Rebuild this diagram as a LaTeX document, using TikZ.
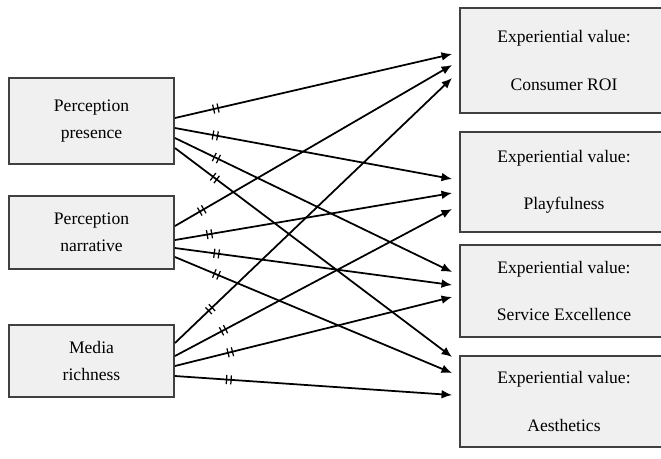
\documentclass[tikz,border=0pt]{standalone}
\usepackage{fontspec}
\setmainfont{Liberation Serif}
\usetikzlibrary{arrows.meta,calc,decorations.markings}
\begin{document}
\begin{tikzpicture}[x=0.02cm,y=-0.02cm,
  box/.style={draw=kBorder,fill=kFill,line width=1.1pt,inner sep=0pt,align=center},
  arr/.style={line width=1pt,-{Latex[length=6pt,width=5pt]}},
  hyp/.style={postaction={decorate,decoration={markings,mark=at position #1 with {
    \draw[-,line width=0.7pt] (-1.3pt,-2.6pt) -- (-1.3pt,2.6pt) (1.3pt,-2.6pt) -- (1.3pt,2.6pt);}}}}]
  % colors
  \definecolor{kFill}{rgb}{0.94,0.94,0.94}
  \definecolor{kBorder}{rgb}{0.25,0.25,0.25}
  \useasboundingbox (0,0) rectangle (661,458);

  % perception / media
  \node[box,minimum width=3.3cm,minimum height=1.72cm] (pp) at (91.5,121) {Perception\\[3.4pt]presence};
  \node[box,minimum width=3.3cm,minimum height=1.46cm] (pn) at (91.5,232.5) {Perception\\[3.4pt]narrative};
  \node[box,minimum width=3.3cm,minimum height=1.44cm] (mr) at (91.5,361) {Media\\[3.4pt]richness};

  % experiential values
  \node[box,minimum width=4.16cm,minimum height=2.1cm] (roi) at (564,60.5) {Experiential value:\\[15pt]Consumer ROI};
  \node[box,minimum width=4.16cm,minimum height=2cm] (play) at (564,182) {Experiential value:\\[15pt]Playfulness};
  \node[box,minimum width=4.16cm,minimum height=1.84cm] (serv) at (564,291) {Experiential value:\\[15pt]Service Excellence};
  \node[box,minimum width=4.16cm,minimum height=1.82cm] (aes) at (564,401.5) {Experiential value:\\[15pt]Aesthetics};

  % hypotheses
  \foreach \s/\a/\t/\b/\d in {pp/-3/roi/-6.5/0.84, pp/7/play/-3/0.82, pp/17/serv/-19/0.92, pp/27/aes/-44.5/1.0,
                              pn/-6.5/roi/4.5/0.62, pn/7.5/play/11/0.70, pn/15.5/serv/-6/0.84, pn/24.5/aes/-28.5/0.90,
                              mr/-18/roi/17.5/0.98, mr/-5/play/27/1.10, mr/5/serv/6/1.14, mr/15/aes/-6.5/1.08} {
    \draw[arr,hyp=\d cm] ($(\s.east)+(0,\a)$) -- ($(\t.west)+(-7,\b)$);
  };
\end{tikzpicture}
\end{document}
